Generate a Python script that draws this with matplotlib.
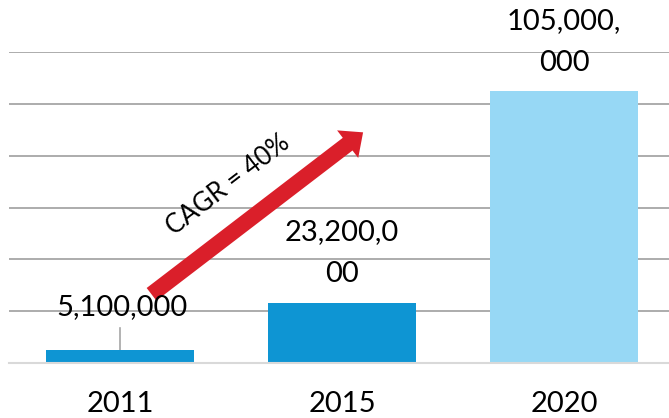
import matplotlib
matplotlib.use("Agg")
import matplotlib.pyplot as plt

years = ["2011", "2015", "2020"]
values = [5100000, 23200000, 105000000]
labels = ["5,100,000", "23,200,0\n00", "105,000,\n000"]
bar_colors = ["#0E95D3", "#0E95D3", "#97D8F5"]
cagr_text = "CAGR = 40%"

plt.rcParams["font.family"] = ["Lato", "DejaVu Sans"]

fig = plt.figure(figsize=(6.69, 4.18), dpi=100)
# axes placed in pixels: left 9, right 675 (cut by image edge), baseline 363, top grid 52
W, H = 669, 418
ax = fig.add_axes([9 / W, (H - 363) / H, 666 / W, 311 / H])

x = range(len(years))
ax.bar(x, values, width=0.67, color=bar_colors, zorder=2)
ax.set_xlim(-0.5, 2.5)
ax.set_ylim(0, 120000000)
ax.set_yticks(range(0, 120000001, 20000000))
ax.yaxis.grid(True, color="#A6A6A6", linewidth=1.3, zorder=0)
ax.set_axisbelow(True)
for s in ["top", "right", "left"]:
    ax.spines[s].set_visible(False)
ax.spines["bottom"].set_color("#D9D9D9")
ax.spines["bottom"].set_linewidth(1.5)
ax.tick_params(axis="y", left=False, labelleft=False)
ax.tick_params(axis="x", length=0, pad=20, labelsize=21)
ax.set_xticks(list(x))
ax.set_xticklabels(years)

# data labels
ax.text(0.01, 21600000, labels[0], ha="center", va="center", fontsize=21, zorder=4)
ax.plot([0, 0], [values[0], 13500000], color="#A6A6A6", linewidth=1.2, zorder=1)
ax.text(1, 42300000, labels[1], ha="center", va="center", fontsize=21,
        linespacing=1.75, zorder=4)
ax.text(2, 123900000, labels[2], ha="center", va="center", fontsize=21,
        linespacing=1.75, clip_on=False, zorder=4)

# CAGR arrow
ax.annotate("", xy=(1.095, 89000000), xytext=(0.142, 26500000),
            arrowprops=dict(arrowstyle="simple,head_length=1.4,head_width=2.5,tail_width=1.15",
                            mutation_scale=10, color="#DA1F2A", shrinkA=0, shrinkB=0,
                            linewidth=0),
            zorder=3)
ax.text(0.487, 68500000, cagr_text, ha="center", va="center", fontsize=18.5,
        rotation=37.5, rotation_mode="anchor", zorder=4)

fig.savefig("out.png", dpi=100)
